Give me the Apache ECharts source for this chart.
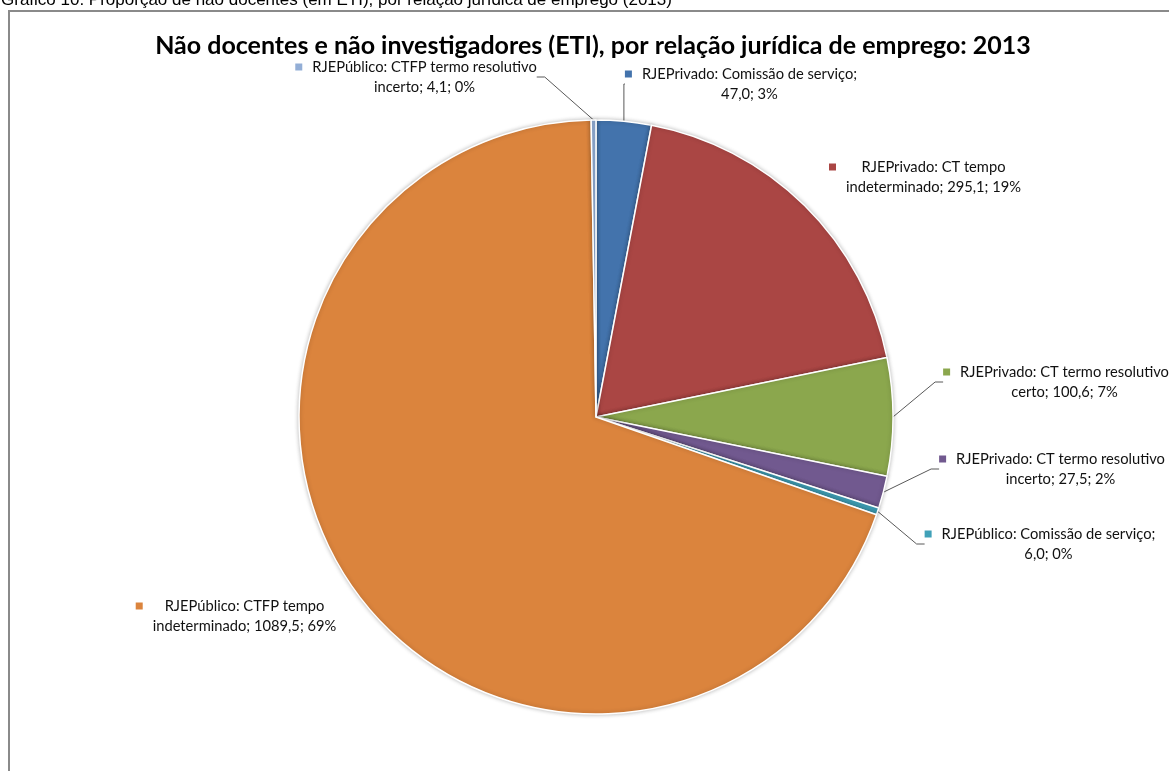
<!DOCTYPE html>
<html><head><meta charset="utf-8">
<script src="https://cdn.jsdelivr.net/npm/echarts@6/dist/echarts.min.js"></script>
<style>html,body{margin:0;padding:0;background:#fff;overflow:hidden}#c{width:1169px;height:771px}</style>
</head><body><div id="c"></div>
<script>
// ---- data ----
const categories = [
  'RJEPrivado: Comissão de serviço',
  'RJEPrivado: CT tempo indeterminado',
  'RJEPrivado: CT termo resolutivo certo',
  'RJEPrivado: CT termo resolutivo incerto',
  'RJEPúblico: Comissão de serviço',
  'RJEPúblico: CTFP tempo indeterminado',
  'RJEPúblico: CTFP termo resolutivo incerto'
];
const values = [47.0, 295.1, 100.6, 27.5, 6.0, 1089.5, 4.1];
const percentLabels = [3, 19, 7, 2, 0, 69, 0];
const firstLineWords = [4, 3, 4, 4, 4, 3, 4];
const colors = ['#4373AC', '#AA4644', '#8BA74D', '#71598F', '#40A1B8', '#DB843D', '#93AED6'];
const labelCenters = [[741, 84], [925, 177], [1056, 382], [1052, 469], [1040, 544], [236, 616], [416, 77]];
const showLeader = [true, false, true, true, true, false, true];
const chartTitle = 'Não docentes e não investigadores (ETI), por relação jurídica de emprego: 2013';
const caption = 'Gráfico 10: Proporção de não docentes (em ETI), por relação jurídica de emprego (2013)';

const FONT = 'Lato';
const rich = {
  t: { fontFamily: FONT, fontSize: 14.7, color: '#111', lineHeight: 20, align: 'center' },
  g: { width: 10, height: 7, align: 'left' },
  s: { width: 17, height: 7, align: 'left' }
};
colors.forEach((c, i) => { rich['sq' + i] = { width: 7, height: 7, backgroundColor: c, lineHeight: 20, align: 'left' }; });

const chart = echarts.init(document.getElementById('c'), null, { renderer: 'canvas' });
chart.setOption({
  backgroundColor: '#fff',
  animation: false,
  title: {
    text: chartTitle,
    left: 588, top: 28, textAlign: 'center',
    textStyle: { fontFamily: FONT, fontWeight: 'bold', fontSize: 25, color: '#000' }
  },
  graphic: [
    { type: 'rect', shape: { x: 9, y: 11, width: 1300, height: 900 }, style: { fill: 'none', stroke: '#8a8a8a', lineWidth: 2 }, silent: true },
    { type: 'text', left: 1, top: -8, style: { text: caption, font: '17px "Liberation Sans", Arial', fill: '#000' }, silent: true }
  ],
  series: [{
    type: 'pie',
    center: [596, 417],
    radius: 297,
    startAngle: 90,
    clockwise: true,
    avoidLabelOverlap: false,
    itemStyle: { borderColor: '#fff', borderWidth: 1.5, shadowBlur: 4, shadowColor: 'rgba(0,0,0,0.25)' },
    label: {
      show: true,
      position: 'outside',
      align: 'center',
      rich: rich,
      formatter: function (p) {
        const i = p.dataIndex;
        const v = values[i].toFixed(1).replace('.', ',');
        const words = (categories[i] + '; ' + v + '; ' + percentLabels[i] + '%').split(' ');
        const l1 = words.slice(0, firstLineWords[i]).join(' ');
        const l2 = words.slice(firstLineWords[i]).join(' ');
        return '{sq' + i + '|}{g|}{t|' + l1 + '}\n{s|}{t|' + l2 + '}';
      }
    },
    labelLine: { show: true, length: 10, length2: 8, smooth: false, lineStyle: { color: '#595959', width: 1 } },
    labelLayout: function (params) {
      const c = labelCenters[params.dataIndex];
      return { x: c[0], y: c[1], align: 'center', verticalAlign: 'middle' };
    },
    emphasis: { disabled: true },
    data: values.map((v, i) => ({
      value: v,
      name: categories[i],
      itemStyle: { color: colors[i] },
      labelLine: { show: showLeader[i] }
    }))
  }]
});
</script>
</body></html>
